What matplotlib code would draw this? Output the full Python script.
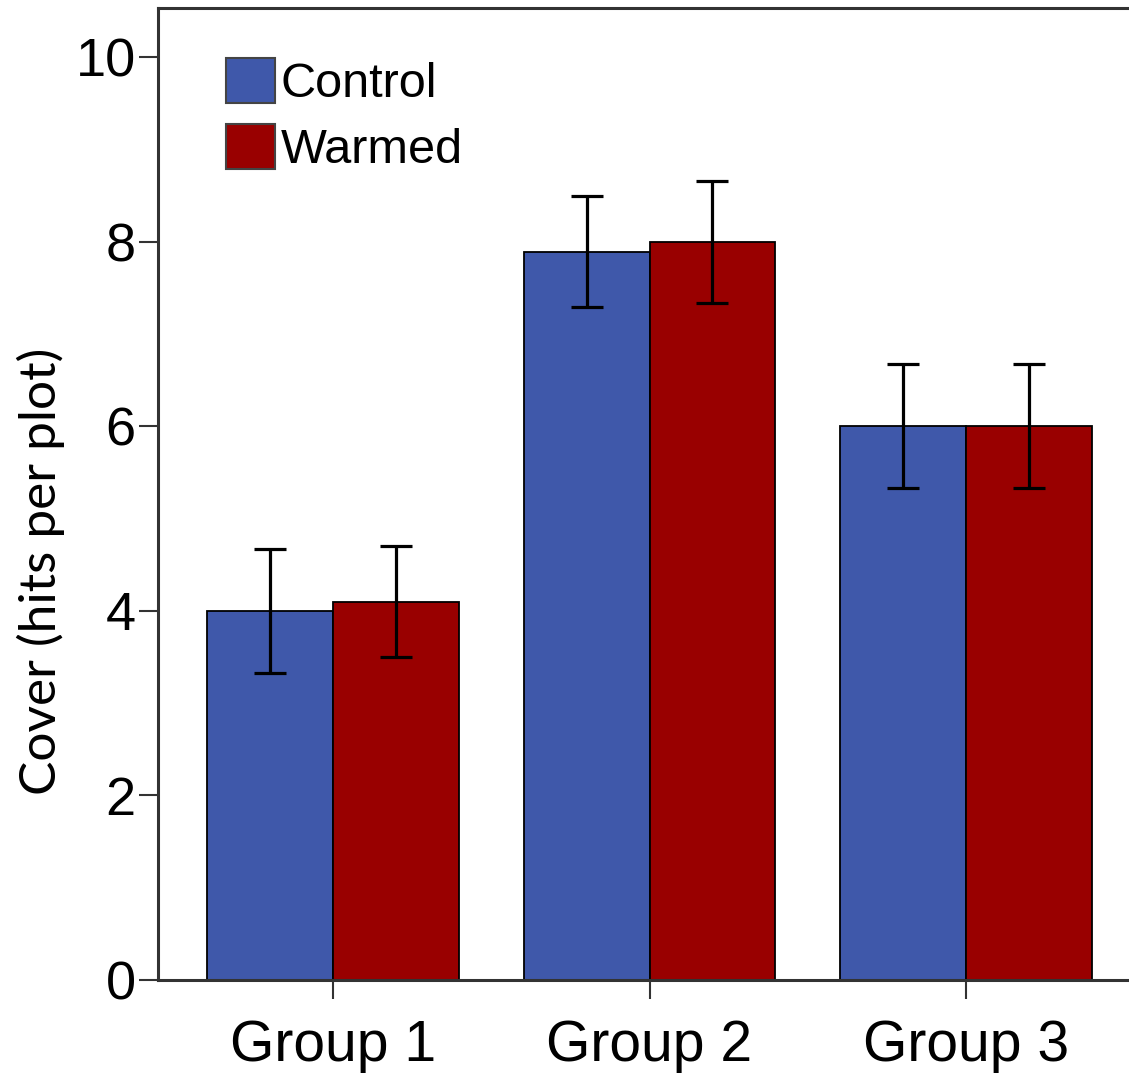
import matplotlib
matplotlib.use("Agg")
import matplotlib.pyplot as plt
import numpy as np

groups = ["Group 1", "Group 2", "Group 3"]
control = [4.0, 7.89, 6.0]
control_err = [0.67, 0.6, 0.67]
warmed = [4.1, 8.0, 6.0]
warmed_err = [0.6, 0.66, 0.67]
yticks = [0, 2, 4, 6, 8, 10]

blue = "#3F58AA"
red = "#990000"

fig = plt.figure(figsize=(11.29, 10.74), dpi=100)
ax = fig.add_axes([0.140, 0.0875, 0.86, 0.905])

x = np.arange(len(groups))
w = 0.397
ekw = dict(elinewidth=2.3, capthick=2.3, ecolor="black")
ax.bar(x - w / 2, control, w, color=blue, edgecolor="black", linewidth=1.3,
       label="Control", yerr=control_err, capsize=11.5, error_kw=ekw, zorder=2)
ax.bar(x + w / 2, warmed, w, color=red, edgecolor="black", linewidth=1.3,
       label="Warmed", yerr=warmed_err, capsize=11.5, error_kw=ekw, zorder=2)

ax.set_xlim(-0.553, 2.515)
ax.set_ylim(0, 10.53)
ax.set_xticks(x)
ax.set_xticklabels(groups, family="Liberation Sans", fontsize=41)
ax.set_yticks(yticks)
ax.set_yticklabels([str(t) for t in yticks], family="Liberation Sans", fontsize=39)
ax.tick_params(axis="both", direction="out", length=14, width=1.5, color="#333333")
ax.tick_params(axis="y", pad=2)
ax.tick_params(axis="x", pad=14)

for s in ["left", "top", "bottom"]:
    ax.spines[s].set_linewidth(2.2)
    ax.spines[s].set_color("#333333")
ax.spines["right"].set_visible(False)

ax.set_ylabel("Cover (hits per plot)", family="Lato", fontsize=37)
ax.yaxis.set_label_coords(-0.096, 0.42)

leg = ax.legend(loc="upper left", bbox_to_anchor=(0.05, 0.969), frameon=False,
                prop={"family": "Liberation Sans", "size": 35},
                handlelength=1.0, handleheight=1.05, handletextpad=0.12,
                labelspacing=0.36, borderaxespad=0)
for p in leg.get_patches():
    p.set_edgecolor("#444444")
    p.set_linewidth(1.5)

fig.savefig("out.png", dpi=100)
